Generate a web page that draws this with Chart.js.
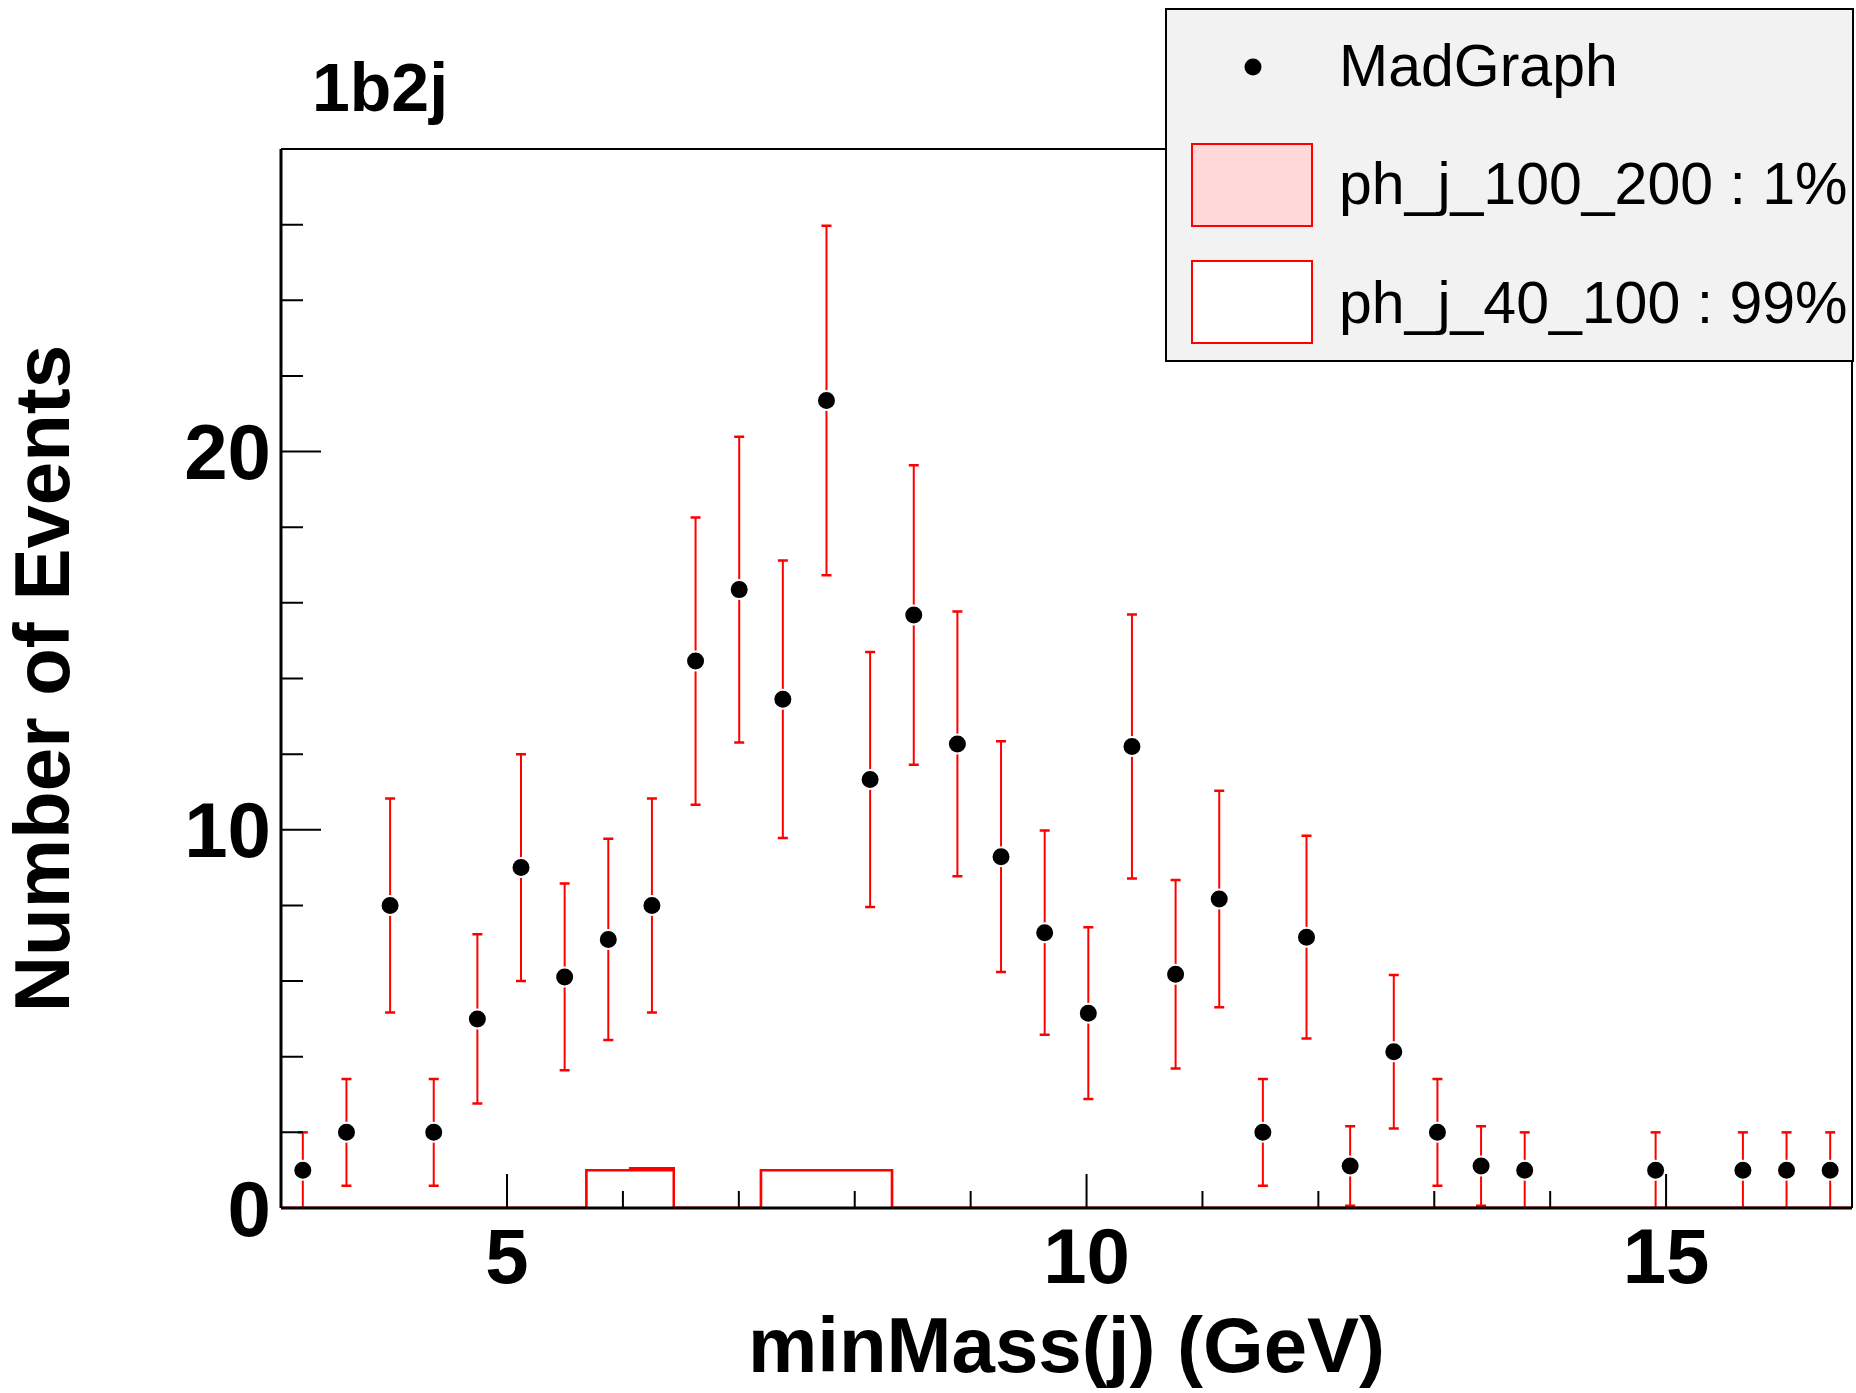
<!DOCTYPE html>
<html>
<head>
<meta charset="utf-8">
<script src="https://cdn.jsdelivr.net/npm/chart.js@4.4.1/dist/chart.umd.min.js"></script>
<style>
  html, body { margin: 0; padding: 0; background: #fff; }
  #wrap { width: 1856px; height: 1393px; }
</style>
</head>
<body>
<div id="wrap"><canvas id="c"></canvas></div>
<script>
// bin edges of minMass(j), GeV (36 bins)
const binEdges = [3.05, 3.4265, 3.803, 4.1795, 4.556, 4.9325, 5.309, 5.6855, 6.062, 6.4385,
    6.815, 7.1915, 7.568, 7.9445, 8.321, 8.6975, 9.074, 9.4505, 9.827, 10.2035,
    10.58, 10.9565, 11.333, 11.7095, 12.086, 12.4625, 12.839, 13.2155, 13.592, 13.9685,
    14.345, 14.7215, 15.098, 15.4745, 15.851, 16.2275, 16.604];

// MadGraph events per bin (null = empty bin)
const madgraph = [1, 2, 8, 2, 5, 9, 6.11, 7.1, 8, 14.46,
    16.35, 13.45, 21.35, 11.33, 15.68, 12.27, 9.29, 7.28, 5.15, 12.2,
    6.18, 8.17, 2, 7.16, 1.11, 4.13, 2, 1.11, 1, null,
    null, 1, null, 1, 1, 1];
const madgraphErr = [1, 1.41, 2.83, 1.41, 2.24, 3, 2.47, 2.66, 2.83, 3.8,
    4.04, 3.67, 4.62, 3.37, 3.96, 3.5, 3.05, 2.7, 2.27, 3.49,
    2.49, 2.86, 1.41, 2.68, 1.05, 2.03, 1.41, 1.05, 1, 0,
    0, 1, 0, 1, 1, 1];

// stacked backgrounds
const phj40_100 = [0, 0, 0, 0, 0, 0, 0, 1, 1, 0,
    0, 1, 1, 1, 0, 0, 0, 0, 0, 0,
    0, 0, 0, 0, 0, 0, 0, 0, 0, 0,
    0, 0, 0, 0, 0, 0];
const phj100_200 = [0, 0, 0, 0, 0, 0, 0, 0, 0.05, 0,
    0, 0, 0, 0, 0, 0, 0, 0, 0, 0,
    0, 0, 0, 0, 0, 0, 0, 0, 0, 0,
    0, 0, 0, 0, 0, 0];

const xTickLabels = [5, 10, 15];
const yTickLabels = [0, 10, 20];

const FONT = '"Liberation Sans", Arial, Helvetica, sans-serif';
const RED = '#ff0000';
const PINK = 'rgb(255,217,217)';

const centers = madgraph.map((v, i) => (binEdges[i] + binEdges[i + 1]) / 2);

function histPoints(vals) {
    const n = vals.length;
    const pts = [{x: binEdges[0], y: 0}];
    vals.forEach((v, i) => pts.push({x: binEdges[i + 1], y: v}));
    pts.push({x: binEdges[n], y: 0});
    return pts;
}

const stackTop = phj40_100.map((v, i) => v + phj100_200[i]);

const pointData = [];
madgraph.forEach((v, i) => {
    if (v !== null) pointData.push({x: centers[i], y: v});
});

// error bars, drawn just before the markers
const errorBars = {
    id: 'errorBars',
    beforeDatasetDraw(chart, args) {
        if (args.index !== 0) return;
        const xs = chart.scales.x, ys = chart.scales.y, ctx = chart.ctx;
        ctx.save();
        ctx.strokeStyle = RED;
        madgraph.forEach((v, i) => {
            if (v === null) return;
            const e = madgraphErr[i];
            const px = xs.getPixelForValue(centers[i]);
            const lo = Math.max(0, v - e);
            const pLo = ys.getPixelForValue(lo), pHi = ys.getPixelForValue(v + e);
            ctx.lineWidth = 2;
            ctx.beginPath();
            ctx.moveTo(px, pLo); ctx.lineTo(px, pHi);
            ctx.stroke();
            ctx.lineWidth = 2.5;
            ctx.beginPath();
            ctx.moveTo(px - 5, pHi); ctx.lineTo(px + 5, pHi);
            if (v - e > 0.02) { ctx.moveTo(px - 5, pLo); ctx.lineTo(px + 5, pLo); }
            ctx.stroke();
        });
        ctx.restore();
    }
};

// ROOT style frame with inward ticks
const frame = {
    id: 'frame',
    afterDatasetsDraw(chart) {
        const {ctx, chartArea: a} = chart;
        const xs = chart.scales.x, ys = chart.scales.y;
        ctx.save();
        ctx.strokeStyle = '#000';
        ctx.lineWidth = 2;
        ctx.beginPath();
        ctx.moveTo(a.left, a.top); ctx.lineTo(a.right, a.top);
        ctx.moveTo(a.right, a.top); ctx.lineTo(a.right, a.bottom);
        ctx.stroke();
        ctx.lineWidth = 3;
        ctx.beginPath();
        ctx.moveTo(a.left, a.top); ctx.lineTo(a.left, a.bottom);
        ctx.moveTo(a.left, a.bottom); ctx.lineTo(a.right, a.bottom);
        ctx.stroke();
        ctx.lineWidth = 2;
        ctx.beginPath();
        ys.ticks.forEach(t => {
            const py = ys.getPixelForValue(t.value);
            const len = yTickLabels.includes(t.value) ? 40 : 22;
            ctx.moveTo(a.left, py); ctx.lineTo(a.left + len, py);
        });
        xs.ticks.forEach(t => {
            if (!Number.isInteger(t.value)) return;
            const px = xs.getPixelForValue(t.value);
            const len = xTickLabels.includes(t.value) ? 34 : 17;
            ctx.moveTo(px, a.bottom); ctx.lineTo(px, a.bottom - len);
        });
        ctx.stroke();
        ctx.restore();
    }
};

// title and legend box
const decor = {
    id: 'decor',
    afterDraw(chart) {
        const ctx = chart.ctx;
        ctx.save();
        ctx.fillStyle = '#000';
        ctx.font = 'bold 68px ' + FONT;
        ctx.textBaseline = 'alphabetic';
        ctx.fillText('1b2j', 312, 111);

        ctx.fillStyle = '#f2f2f2';
        ctx.fillRect(1166, 9, 687, 352);
        ctx.strokeStyle = '#000';
        ctx.lineWidth = 2;
        ctx.strokeRect(1166, 9, 687, 352);

        ctx.fillStyle = '#000';
        ctx.beginPath();
        ctx.arc(1253, 67, 8.5, 0, Math.PI * 2);
        ctx.fill();

        ctx.lineWidth = 2;
        ctx.strokeStyle = RED;
        ctx.fillStyle = PINK;
        ctx.fillRect(1192, 144, 120, 82);
        ctx.strokeRect(1192, 144, 120, 82);
        ctx.fillStyle = '#fff';
        ctx.fillRect(1192, 261, 120, 82);
        ctx.strokeRect(1192, 261, 120, 82);

        const ds = chart.data.datasets;
        ctx.fillStyle = '#000';
        ctx.font = '59px ' + FONT;
        ctx.fillText(ds[0].label, 1339, 86);
        ctx.fillText(ds[1].label, 1339, 204);
        ctx.fillText(ds[2].label, 1339, 323);
        ctx.restore();
    }
};

const axisFont = {family: FONT, size: 78, weight: 'bold', lineHeight: 1};

new Chart(document.getElementById('c'), {
    data: {
        datasets: [{
            type: 'scatter',
            label: 'MadGraph',
            data: pointData,
            order: 0,
            pointRadius: 9.5,
            pointBackgroundColor: '#000',
            pointBorderColor: '#fff',
            pointBorderWidth: 2
        }, {
            type: 'line',
            label: 'ph_j_100_200 : 1%',
            data: histPoints(stackTop),
            order: 2,
            stepped: 'after',
            pointRadius: 0,
            borderColor: RED,
            borderWidth: 2.5,
            backgroundColor: PINK,
            fill: 'origin'
        }, {
            type: 'line',
            label: 'ph_j_40_100 : 99%',
            data: histPoints(phj40_100),
            order: 1,
            stepped: 'after',
            pointRadius: 0,
            borderColor: RED,
            borderWidth: 2.5,
            backgroundColor: '#fff',
            fill: 'origin'
        }]
    },
    options: {
        responsive: true,
        maintainAspectRatio: false,
        animation: false,
        layout: {autoPadding: false, padding: {top: 149, right: 4, left: 0, bottom: 0}},
        plugins: {
            legend: {display: false},
            tooltip: {enabled: false}
        },
        scales: {
            x: {
                type: 'linear',
                min: binEdges[0],
                max: binEdges[binEdges.length - 1],
                grid: {display: false},
                border: {display: false},
                ticks: {
                    stepSize: 1,
                    autoSkip: false,
                    maxRotation: 0,
                    padding: 6,
                    color: '#000',
                    font: axisFont,
                    callback: v => xTickLabels.includes(v) ? String(v) : ''
                },
                title: {
                    display: true,
                    text: 'minMass(j) (GeV)',
                    color: '#000',
                    font: axisFont,
                    padding: {top: 0, bottom: 4}
                },
                afterFit: s => {
                    s.height = 185;
                    s.paddingLeft = 0;
                    s.paddingRight = 0;
                }
            },
            y: {
                type: 'linear',
                min: 0,
                max: 28,
                grid: {display: false},
                border: {display: false},
                ticks: {
                    stepSize: 2,
                    autoSkip: false,
                    padding: 2,
                    labelOffset: 6,
                    color: '#000',
                    font: axisFont,
                    callback: v => yTickLabels.includes(v) ? String(v) : ''
                },
                title: {
                    display: true,
                    text: 'Number of Events',
                    color: '#000',
                    font: axisFont,
                    padding: {top: 8, bottom: 0}
                },
                afterFit: s => {
                    s.width = 281;
                    s.paddingTop = 0;
                    s.paddingBottom = 0;
                }
            }
        }
    },
    plugins: [errorBars, frame, decor]
});
</script>
</body>
</html>
